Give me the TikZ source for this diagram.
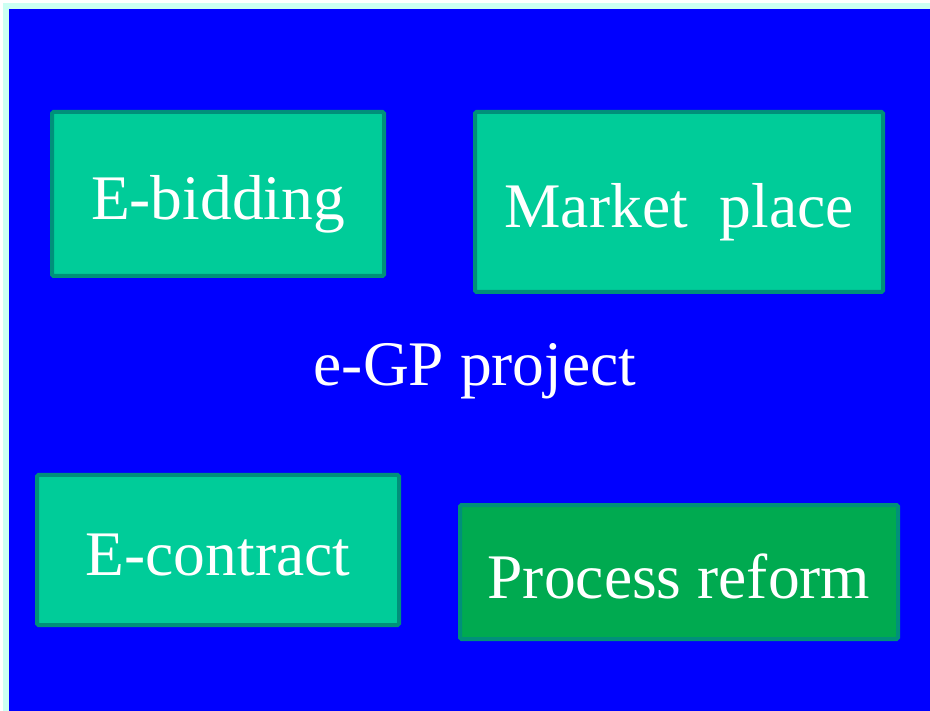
\documentclass[tikz,border=0pt]{standalone}
\usepackage{fontspec}
\setmainfont{Liberation Serif}
\definecolor{bgblue}{HTML}{0000FF}
\definecolor{edgecyan}{HTML}{CCFFF2}
\definecolor{boxfill}{HTML}{00CC99}
\definecolor{boxedge}{HTML}{00907A}
\definecolor{greenfill}{HTML}{00AA50}
\begin{document}
\begin{tikzpicture}[x=1pt,y=-1pt,
  card/.style={draw=boxedge,line width=4pt,fill=boxfill,rounded corners=1.5pt},
  lbl/.style={text=white,font=\fontsize{63.5}{70}\selectfont,anchor=base,inner sep=0pt}]
\useasboundingbox (0,0) rectangle (930,711);
\fill[white] (0,0) rectangle (930,711);
\fill[edgecyan] (3,3) rectangle (930,711);
\fill[bgblue] (9,9) rectangle (930,711);
\node[card,minimum width=332pt,minimum height=164pt,inner sep=0pt] (bid) at (218,194) {};
\node[card,minimum width=408pt,minimum height=180pt,inner sep=0pt] (mkt) at (679,202) {};
\node[card,minimum width=362pt,minimum height=150pt,inner sep=0pt] (con) at (218,550) {};
\node[card,fill=greenfill,minimum width=438pt,minimum height=134pt,inner sep=0pt] (pro) at (679,572) {};
\node[lbl] (tbid) at (218,220) {E-bidding};
\node[lbl] (tmkt) at (679,228) {Market\ \ place};
\node[lbl] (tcon) at (218,575) {E-contract};
\node[lbl] (tpro) at (679,598) {Process reform};
\node[lbl] (title) at (475,386) {e-GP project};
\end{tikzpicture}
\end{document}
